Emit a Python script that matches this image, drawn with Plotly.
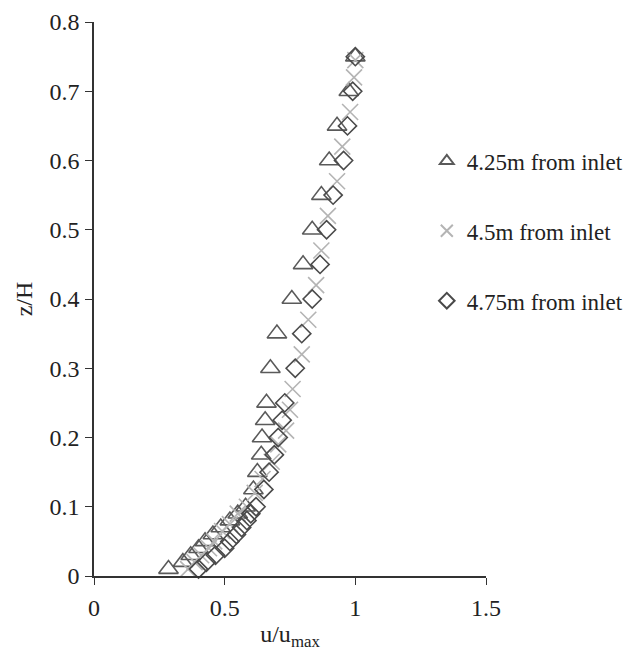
import plotly.graph_objects as go

# 4.25 m from inlet (triangles)
z_425 = [0.75, 0.70, 0.65, 0.60, 0.55, 0.50, 0.45, 0.40, 0.35, 0.30, 0.25, 0.225, 0.20,
         0.175, 0.15, 0.125, 0.10, 0.09, 0.08, 0.07, 0.06, 0.05, 0.04, 0.03, 0.02, 0.01]
u_425 = [1.00, 0.975, 0.93, 0.90, 0.87, 0.835, 0.80, 0.757, 0.70, 0.675, 0.66, 0.655, 0.643,
         0.64, 0.625, 0.61, 0.58, 0.55, 0.52, 0.485, 0.455, 0.425, 0.40, 0.37, 0.34, 0.285]

# 4.5 m from inlet (crosses)
z_45 = [0.745, 0.72, 0.67, 0.62, 0.57, 0.52, 0.47, 0.42, 0.37, 0.32, 0.27, 0.24, 0.21, 0.19,
        0.165, 0.14, 0.12, 0.10, 0.09, 0.075, 0.065, 0.05, 0.04, 0.03, 0.02, 0.01]
u_45 = [1.00, 0.995, 0.98, 0.95, 0.93, 0.895, 0.87, 0.85, 0.82, 0.795, 0.76, 0.75, 0.735, 0.705,
        0.68, 0.645, 0.615, 0.585, 0.55, 0.52, 0.49, 0.46, 0.44, 0.41, 0.385, 0.36]

# 4.75 m from inlet (diamonds)
z_475 = [0.75, 0.70, 0.65, 0.60, 0.55, 0.50, 0.45, 0.40, 0.35, 0.30, 0.25, 0.225, 0.20,
         0.175, 0.15, 0.125, 0.10, 0.09, 0.08, 0.07, 0.06, 0.05, 0.04, 0.03, 0.02, 0.01]
u_475 = [1.00, 0.99, 0.97, 0.955, 0.915, 0.89, 0.865, 0.835, 0.795, 0.77, 0.73, 0.72, 0.705,
         0.69, 0.67, 0.65, 0.62, 0.60, 0.585, 0.565, 0.545, 0.52, 0.50, 0.465, 0.43, 0.40]

series_names = ["4.25m from inlet", "4.5m from inlet", "4.75m from inlet"]
x_ticks = [0, 0.5, 1, 1.5]
y_ticks = [0, 0.1, 0.2, 0.3, 0.4, 0.5, 0.6, 0.7, 0.8]

FONT = "Liberation Serif"
TXT = "#222222"

fig = go.Figure()
fig.add_trace(go.Scatter(
    x=u_425, y=z_425, mode="markers", name=series_names[0], legendgroup="a",
    marker=dict(symbol="triangle-up-open", size=17, color="#5a5a5a",
                line=dict(width=1.6, color="#5a5a5a")),
    cliponaxis=False))
fig.add_trace(go.Scatter(
    x=u_45, y=z_45, mode="markers", name=series_names[1], legendgroup="b",
    marker=dict(symbol="x-thin-open", size=16, color="#b4b4b4",
                line=dict(width=1.6, color="#b4b4b4")),
    cliponaxis=False))
fig.add_trace(go.Scatter(
    x=u_475, y=z_475, mode="markers", name=series_names[2], legendgroup="c",
    marker=dict(symbol="diamond-open", size=14, color="#4a4a4a",
                line=dict(width=1.6, color="#4a4a4a")),
    cliponaxis=False))

fig.update_layout(
    width=630, height=657,
    margin=dict(l=94, r=144, t=22, b=81, autoexpand=False),
    paper_bgcolor="white", plot_bgcolor="white",
    font=dict(family=FONT, size=24, color=TXT),
    showlegend=True,
    legend=dict(x=0.849, y=0.788, xanchor="left", yanchor="top",
                font=dict(family=FONT, size=23, color=TXT),
                tracegroupgap=37, bgcolor="rgba(0,0,0,0)", itemwidth=30,
                itemsizing="constant"),
    xaxis=dict(range=[0, 1.5], tickvals=x_ticks, ticktext=[str(v) for v in x_ticks],
               showgrid=False, zeroline=False, showline=True, linecolor="#333", linewidth=1.5,
               ticks="outside", ticklen=7, tickcolor="#333", ticklabelstandoff=2,
               tickfont=dict(family=FONT, size=24, color=TXT),
               automargin=False,
               title=dict(text="u/u<sub>max</sub>", standoff=6,
                          font=dict(family=FONT, size=24, color=TXT))),
    yaxis=dict(range=[0, 0.8], tickvals=y_ticks, ticktext=[("%g" % v) for v in y_ticks],
               showgrid=False, zeroline=False, showline=True, linecolor="#333", linewidth=1.5,
               ticks="outside", ticklen=7, tickcolor="#333", ticklabelstandoff=1,
               tickfont=dict(family=FONT, size=24, color=TXT),
               automargin=False,
               title=dict(text="z/H", standoff=10,
                          font=dict(family=FONT, size=24, color=TXT))),
)

fig.write_html("out.html")
